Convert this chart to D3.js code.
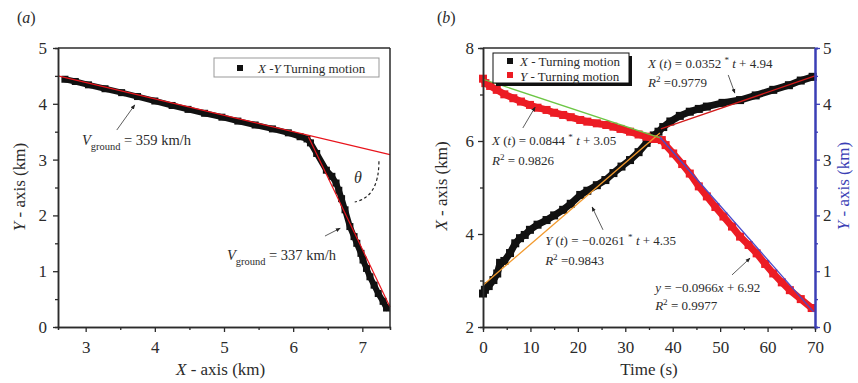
<!DOCTYPE html>
<html>
<head>
<meta charset="utf-8">
<script src="https://cdn.jsdelivr.net/npm/d3@7"></script>
<style>
  body { margin: 0; background: #fff; }
  svg { display: block; }
  text { font-family: "Liberation Serif", "Times New Roman", "DejaVu Serif", serif; fill: #2b2b2b; }
</style>
</head>
<body>
<svg id="chart" width="858" height="383"></svg>
<script>
// ---- panel (a): ground track, X-Y (km)
const trackX = [2.70, 2.85, 3.04, 3.28, 3.52, 3.75, 4.00, 4.25, 4.48, 4.72, 4.97, 5.20, 5.45, 5.70, 5.93, 6.10, 6.20,
                6.25, 6.34, 6.48, 6.56, 6.62, 6.66, 6.70, 6.75, 6.82, 6.88, 6.92, 6.98, 7.01, 7.06, 7.11, 7.17, 7.23, 7.30, 7.35];
const trackY = [4.44, 4.40, 4.34, 4.27, 4.20, 4.13, 4.05, 3.97, 3.90, 3.83, 3.76, 3.69, 3.62, 3.55, 3.48, 3.41, 3.37,
                3.30, 3.11, 2.81, 2.70, 2.58, 2.45, 2.30, 2.10, 1.80, 1.62, 1.50, 1.32, 1.20, 1.05, 0.90, 0.75, 0.60, 0.46, 0.34];
const fitA1X = [2.6, 7.4], fitA1Y = [4.50, 3.09];
const fitA2X = [6.22, 7.4], fitA2Y = [3.41, 0.36];
const ticksAX = [3, 4, 5, 6, 7], minorAX = [3.5, 4.5, 5.5, 6.5];
const ticksAY = [0, 1, 2, 3, 4, 5], minorAY = [0.5, 1.5, 2.5, 3.5, 4.5];

// ---- panel (b): X(t) and Y(t)
const timeX = [0, 0.4, 1.2, 2.2, 3.0, 3.6, 4.5, 5.7, 6.8, 7.8, 8.8, 9.9, 11.5, 13.4, 15.0, 16.9, 18.5, 20.5, 22.0, 24.0,
               25.8, 27.5, 29.2, 31.0, 32.8, 34.5, 36.0, 37.0, 38.0, 39.5, 41.5, 43.6, 45.5, 47.2, 50.5, 54.2, 57.5, 61.2, 64.5, 67.0, 69.5];
const valueX = [2.72, 2.80, 2.88, 3.01, 3.15, 3.38, 3.42, 3.59, 3.80, 3.91, 3.98, 4.09, 4.20, 4.30, 4.40, 4.52, 4.65, 4.84, 4.93, 5.05,
                5.16, 5.31, 5.45, 5.59, 5.76, 5.96, 6.12, 6.20, 6.30, 6.42, 6.54, 6.63, 6.69, 6.74, 6.82, 6.88, 6.98, 7.10, 7.20, 7.30, 7.38];
const timeY = [0, 0.5, 1.5, 2.9, 4.5, 6.4, 8.0, 9.9, 11.5, 13.4, 15.0, 16.9, 18.5, 20.5, 22.0, 24.0, 26.0, 27.5, 29.0, 31.0, 32.8,
               34.5, 36.0, 37.7, 38.5, 40.1, 42.0, 43.6, 45.5, 47.2, 49.0, 50.7, 52.5, 54.2, 56.0, 57.7, 59.5, 61.2, 63.0, 64.7, 67.0, 69.3];
const valueY = [4.45, 4.37, 4.32, 4.25, 4.17, 4.10, 4.04, 3.98, 3.93, 3.89, 3.84, 3.80, 3.76, 3.71, 3.68, 3.65, 3.62, 3.59, 3.55, 3.50, 3.45,
                3.41, 3.37, 3.35, 3.26, 3.11, 2.92, 2.75, 2.52, 2.34, 2.15, 1.98, 1.80, 1.62, 1.47, 1.32, 1.13, 0.96, 0.80, 0.66, 0.50, 0.34];
const fitOrangeT = [0, 37.3], fitOrangeV = [2.90, 6.17];   // left axis
const fitRedT = [37.5, 70], fitRedV = [6.26, 7.40];         // left axis
const fitGreenT = [0, 37.7], fitGreenV = [4.44, 3.38];      // right axis
const fitBlueT = [37.3, 69.7], fitBlueV = [3.40, 0.27];     // right axis
const ticksT = [0, 10, 20, 30, 40, 50, 60, 70], minorT = [5, 15, 25, 35, 45, 55, 65];
const ticksBL = [2, 4, 6, 8], minorBL = [3, 5, 7];
const ticksBR = [0, 1, 2, 3, 4, 5], minorBR = [0.5, 1.5, 2.5, 3.5, 4.5];

const svg = d3.select('#chart');
const axisColor = '#2b2b2b', blue = '#3b3fb5';
const serif = '"Liberation Serif", "Times New Roman", "DejaVu Serif", serif';
const fmt = d3.format('d');

const defs = svg.append('defs');
defs.append('marker').attr('id', 'arr').attr('viewBox', '0 0 10 10')
  .attr('refX', 9).attr('refY', 5).attr('markerWidth', 6).attr('markerHeight', 6)
  .attr('orient', 'auto')
  .append('path').attr('d', 'M0,1 L10,5 L0,9 Z').attr('fill', '#222');

// rich text helper: parts = [[str, style]]
function rich(g, x, y, parts, size) {
  const t = g.append('text').attr('x', x).attr('y', y)
    .style('font-size', size + 'px').style('font-family', serif);
  let shift = 0;
  parts.forEach(([s, st]) => {
    const sp = t.append('tspan').text(s);
    let target = 0;
    if (st === 'i') sp.style('font-style', 'italic');
    if (st === 'sup') { sp.style('font-size', (size * 0.7) + 'px'); target = -size * 0.4; }
    if (st === 'sub') { sp.style('font-size', (size * 0.72) + 'px'); target = size * 0.35; }
    sp.attr('dy', target - shift);
    shift = target;
  });
  return t;
}

function styleAxis(g, color) {
  g.attr('font-family', null);
  g.select('.domain').attr('stroke', color).attr('stroke-width', 1.5);
  g.selectAll('.tick line').attr('stroke', color).attr('stroke-width', 1.3);
  g.selectAll('.tick text').style('font-size', '17px').attr('fill', '#2b2b2b').style('font-family', serif);
}

function drawAxes(g, x, y, opts) {
  const [x0, x1] = x.range(), [y0, y1] = y.range();
  const bottom = g.append('g').attr('transform', `translate(0,${y0})`);
  bottom.append('g').call(d3.axisBottom(x).tickValues(opts.minorX).tickSize(3).tickFormat(''))
    .call(a => styleAxis(a, axisColor));
  bottom.append('g').call(d3.axisBottom(x).tickValues(opts.ticksX).tickSize(5).tickPadding(9).tickSizeOuter(0).tickFormat(fmt))
    .call(a => styleAxis(a, axisColor));
  const left = g.append('g').attr('transform', `translate(${x0},0)`);
  left.append('g').call(d3.axisLeft(opts.yL).tickValues(opts.minorYL).tickSize(3).tickFormat(''))
    .call(a => styleAxis(a, axisColor));
  left.append('g').call(d3.axisLeft(opts.yL).tickValues(opts.ticksYL).tickSize(5).tickPadding(opts.padL).tickSizeOuter(0).tickFormat(fmt))
    .call(a => styleAxis(a, axisColor));
  g.append('line').attr('x1', x0).attr('x2', x1).attr('y1', y1).attr('y2', y1)
    .attr('stroke', axisColor).attr('stroke-width', 1.5);
}

// ================= panel (a) =================
const xA = d3.scaleLinear().domain([2.6, 7.4]).range([58, 390]);
const yA = d3.scaleLinear().domain([0, 5]).range([327, 48]);
const gA = svg.append('g');

const trackPts = trackX.map((v, i) => [xA(v), yA(trackY[i])]);
gA.append('path').attr('d', d3.line()(trackPts)).attr('fill', 'none')
  .attr('stroke', '#111').attr('stroke-width', 6).attr('stroke-linejoin', 'round').attr('stroke-linecap', 'round');
gA.selectAll('.sqA').data(trackPts).join('rect').attr('class', 'sqA')
  .attr('x', d => d[0] - 3.5).attr('y', d => d[1] - 3.5).attr('width', 7).attr('height', 7).attr('fill', '#111');

[[fitA1X, fitA1Y], [fitA2X, fitA2Y]].forEach(([fx, fy]) => {
  gA.append('line').attr('x1', xA(fx[0])).attr('y1', yA(fy[0])).attr('x2', xA(fx[1])).attr('y2', yA(fy[1]))
    .attr('stroke', '#e8141c').attr('stroke-width', 1.2);
});

drawAxes(gA, xA, yA, { ticksX: ticksAX, minorX: minorAX, yL: yA, ticksYL: ticksAY, minorYL: minorAY, padL: 6 });
gA.append('line').attr('x1', 390).attr('x2', 390).attr('y1', 48).attr('y2', 327)
  .attr('stroke', axisColor).attr('stroke-width', 1.5);

// legend (a)
gA.append('rect').attr('x', 214).attr('y', 58).attr('width', 165).attr('height', 19)
  .attr('fill', '#fff').attr('stroke', '#999').attr('stroke-width', 1);
gA.append('rect').attr('x', 237).attr('y', 65).attr('width', 6).attr('height', 6).attr('fill', '#111');
rich(gA, 258, 72.5, [['X', 'i'], [' -', ''], ['Y', 'i'], [' Turning motion', '']], 13);

// annotations (a)
rich(gA, 82, 145, [['V', 'i'], ['ground', 'sub'], [' = 359 km/h', '']], 14.5);
gA.append('line').attr('x1', xA(3.45)).attr('y1', yA(3.53)).attr('x2', xA(3.71)).attr('y2', yA(3.98))
  .attr('stroke', '#333').attr('stroke-width', 0.8).attr('marker-end', 'url(#arr)');
rich(gA, 227, 260, [['V', 'i'], ['ground', 'sub'], [' = 337 km/h', '']], 14.5);
gA.append('line').attr('x1', xA(6.46)).attr('y1', yA(1.63)).attr('x2', xA(6.68)).attr('y2', yA(1.77))
  .attr('stroke', '#333').attr('stroke-width', 0.8).attr('marker-end', 'url(#arr)');
rich(gA, 354, 183, [['θ', 'i']], 16);
gA.append('path')
  .attr('d', `M${xA(7.24)},${yA(2.97)} Q${xA(7.24)},${yA(2.33)} ${xA(6.89)},${yA(2.24)}`)
  .attr('fill', 'none').attr('stroke', '#222').attr('stroke-width', 1.2).attr('stroke-dasharray', '3,2.5');

// titles (a)
rich(gA, 17, 23, [['(', ''], ['a', 'i'], [')', '']], 16);
rich(gA, 176, 375, [['X', 'i'], [' - axis (km)', '']], 17);
rich(gA, 0, 0, [['Y', 'i'], [' - axis (km)', '']], 17)
  .attr('text-anchor', 'middle').attr('transform', 'translate(25,187) rotate(-90)');

// ================= panel (b) =================
const tB = d3.scaleLinear().domain([0, 70]).range([483, 815]);
const xB = d3.scaleLinear().domain([2, 8]).range([327, 48]);
const yB = d3.scaleLinear().domain([0, 5]).range([327, 48]);
const gB = svg.append('g');

function band(times, vals, scale, color, cls) {
  const pts = times.map((t, i) => [tB(t), scale(vals[i])]);
  gB.append('path').attr('d', d3.line()(pts)).attr('fill', 'none')
    .attr('stroke', color).attr('stroke-width', 7).attr('stroke-linejoin', 'round').attr('stroke-linecap', 'round');
  gB.selectAll('.' + cls).data(pts).join('rect').attr('class', cls)
    .attr('x', d => d[0] - 4).attr('y', d => d[1] - 4).attr('width', 8).attr('height', 8).attr('fill', color);
}
band(timeX, valueX, xB, '#111', 'sqX');
band(timeY, valueY, yB, '#ec1c24', 'sqY');

function fit(ft, fv, scale, color) {
  gB.append('line').attr('x1', tB(ft[0])).attr('y1', scale(fv[0])).attr('x2', tB(ft[1])).attr('y2', scale(fv[1]))
    .attr('stroke', color).attr('stroke-width', 1.3);
}
fit(fitOrangeT, fitOrangeV, xB, '#f29a2e');
fit(fitRedT, fitRedV, xB, '#d11a1a');
fit(fitGreenT, fitGreenV, yB, '#6cc644');
fit(fitBlueT, fitBlueV, yB, '#4a4ac8');

drawAxes(gB, tB, xB, { ticksX: ticksT, minorX: minorT, yL: xB, ticksYL: ticksBL, minorYL: minorBL, padL: 4 });
const right = gB.append('g').attr('transform', 'translate(815,0)');
right.append('g').call(d3.axisRight(yB).tickValues(minorBR).tickSize(3).tickFormat(''))
  .call(a => styleAxis(a, blue));
right.append('g').call(d3.axisRight(yB).tickValues(ticksBR).tickSize(5).tickPadding(3).tickSizeOuter(0).tickFormat(fmt))
  .call(a => styleAxis(a, blue));
right.selectAll('.domain').attr('stroke-width', 2);

// legend (b)
gB.append('rect').attr('x', 496).attr('y', 56).attr('width', 136).attr('height', 30).attr('fill', '#111');
gB.append('rect').attr('x', 493).attr('y', 53).attr('width', 136).attr('height', 30)
  .attr('fill', '#fff').attr('stroke', '#111').attr('stroke-width', 1);
gB.append('rect').attr('x', 507).attr('y', 58).attr('width', 6).attr('height', 6).attr('fill', '#111');
gB.append('rect').attr('x', 507).attr('y', 72).attr('width', 6).attr('height', 6).attr('fill', '#ec1c24');
rich(gB, 520, 65.5, [['X', 'i'], [' - Turning motion', '']], 13);
rich(gB, 520, 80.5, [['Y', 'i'], [' - Turning motion', '']], 13);

// annotations (b)
const annSize = 13;
function arrow(t0, v0, t1, v1) {
  gB.append('line').attr('x1', tB(t0)).attr('y1', xB(v0)).attr('x2', tB(t1)).attr('y2', xB(v1))
    .attr('stroke', '#333').attr('stroke-width', 0.8).attr('marker-end', 'url(#arr)');
}
rich(gB, tB(34.8), xB(7.57), [['X', 'i'], [' (', ''], ['t', 'i'], [') = 0.0352 ', ''], ['*', 'sup'], [' ', ''], ['t', 'i'], [' + 4.94', '']], annSize);
rich(gB, tB(34.8), xB(7.16), [['R', 'i'], ['2', 'sup'], [' =0.9779', '']], annSize);
arrow(51.7, 7.42, 53.1, 7.03);
rich(gB, tB(1.9), xB(5.91), [['X', 'i'], [' (', ''], ['t', 'i'], [') = 0.0844 ', ''], ['*', 'sup'], [' ', ''], ['t', 'i'], [' + 3.05', '']], annSize);
rich(gB, tB(1.9), xB(5.48), [['R', 'i'], ['2', 'sup'], [' = 0.9826', '']], annSize);
arrow(8.4, 6.28, 11.0, 6.73);
rich(gB, tB(13.1), xB(3.76), [['Y', 'i'], [' (', ''], ['t', 'i'], [') = \u22120.0261 ', ''], ['*', 'sup'], [' ', ''], ['t', 'i'], [' + 4.35', '']], annSize);
rich(gB, tB(13.1), xB(3.33), [['R', 'i'], ['2', 'sup'], [' =0.9843', '']], annSize);
arrow(25.3, 4.09, 23.0, 4.58);
rich(gB, tB(36.3), xB(2.75), [['y', 'i'], [' = \u22120.0966', ''], ['x', 'i'], [' + 6.92', '']], annSize);
rich(gB, tB(36.3), xB(2.37), [['R', 'i'], ['2', 'sup'], [' = 0.9977', '']], annSize);
arrow(52.5, 3.12, 56.3, 3.48);

// titles (b)
rich(gB, 437, 23, [['(', ''], ['b', 'i'], [')', '']], 16);
rich(gB, 649, 375, [['Time (s)', '']], 17).attr('text-anchor', 'middle');
rich(gB, 0, 0, [['X', 'i'], [' - axis (km)', '']], 17)
  .attr('text-anchor', 'middle').attr('transform', 'translate(447,186) rotate(-90)');
rich(gB, 0, 0, [['Y', 'i'], [' - axis (km)', '']], 17)
  .attr('text-anchor', 'middle').attr('transform', 'translate(849,186) rotate(-90)')
  .style('fill', blue).selectAll('tspan').style('fill', blue);
</script>
</body>
</html>
